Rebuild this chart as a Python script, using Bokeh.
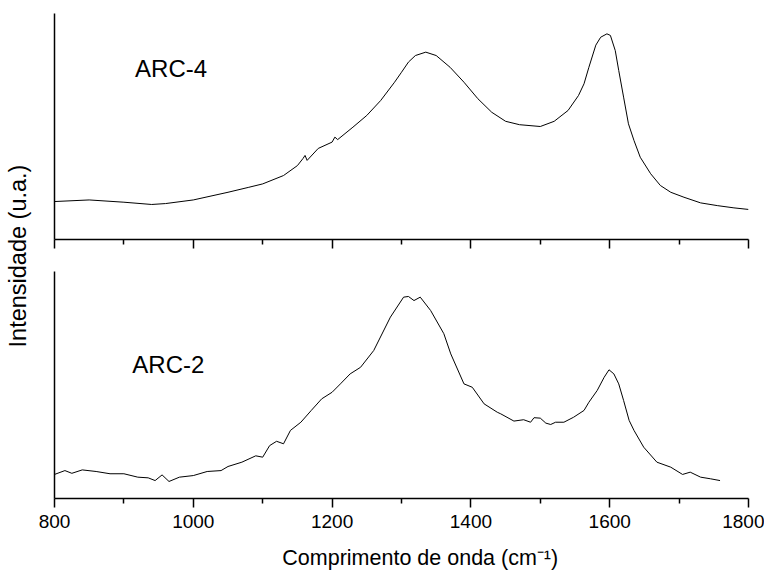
import math
from bokeh.plotting import figure
from bokeh.layouts import row, column
from bokeh.models import Range1d, FixedTicker, CustomJSTickFormatter, Label
from bokeh.core.properties import value
from bokeh.embed import file_html
from bokeh.resources import INLINE

# ---------------- data ----------------
# ARC-4 Raman spectrum (wavenumber, intensity a.u.)
arc4_x = [800, 850, 900, 940, 960, 1000, 1050, 1080, 1100, 1130, 1150, 1158, 1161, 1164,
          1180, 1200, 1204, 1208, 1230, 1250, 1270, 1290, 1300, 1310, 1320, 1335, 1350,
          1370, 1390, 1410, 1430, 1450, 1470, 1500, 1520, 1540, 1555, 1563, 1570, 1580,
          1587, 1596, 1601, 1608, 1613, 1620, 1627, 1635, 1644, 1659, 1673, 1688, 1707,
          1731, 1755, 1779, 1800]
arc4_y = [16.8, 17.5, 16.5, 15.5, 15.9, 17.5, 20.9, 23.1, 24.6, 28.3, 32.7, 35.8, 37.2, 35.0,
          40.3, 43.1, 45.3, 44.2, 49.7, 54.9, 61.5, 69.6, 74.0, 78.5, 81.4, 82.9, 81.4,
          76.2, 69.6, 62.3, 56.3, 52.3, 50.8, 50.0, 52.3, 57.1, 63.7, 68.9, 76.2, 86.0,
          89.5, 91.0, 90.3, 83.6, 74.8, 63.0, 51.2, 43.8, 36.4, 29.1, 23.9, 20.9, 18.7,
          16.2, 15.0, 14.0, 13.3]

# ARC-2 Raman spectrum
arc2_x = [800, 815, 825, 840, 860, 880, 900, 920, 935, 945, 955, 965, 980, 1000, 1020, 1040,
          1050, 1070, 1090, 1100, 1110, 1120, 1130, 1140, 1155, 1170, 1185, 1200, 1212, 1226,
          1241, 1260, 1284, 1303, 1310, 1318, 1327, 1342, 1361, 1371, 1390, 1402, 1419, 1438,
          1443, 1462, 1476, 1486, 1491, 1500, 1508, 1515, 1522, 1534, 1548, 1563, 1570, 1582,
          1592, 1599, 1606, 1613, 1620, 1628, 1635, 1649, 1668, 1688, 1705, 1716, 1731, 1745,
          1759]
arc2_y = [10.6, 12.3, 11.1, 12.6, 11.9, 10.9, 10.9, 9.4, 9.1, 7.9, 10.4, 7.5, 9.4, 10.1, 11.9, 12.3,
          14.1, 16.0, 18.8, 18.2, 23.3, 25.2, 24.1, 30.0, 33.6, 38.8, 43.9, 46.8, 50.5, 54.9,
          57.8, 65.2, 79.9, 88.7, 89.0, 87.2, 88.7, 82.8, 72.6, 63.7, 50.5, 49.0, 41.7, 38.0,
          37.3, 34.1, 34.7, 33.6, 35.6, 35.4, 33.2, 32.6, 33.6, 33.6, 35.8, 38.8, 42.4, 47.6,
          53.4, 56.7, 54.9, 50.5, 43.2, 34.4, 30.0, 22.6, 16.0, 13.8, 10.6, 11.6, 9.4, 8.7,
          7.9]

major_ticks = [800, 1000, 1200, 1400, 1600, 1800]
minor_ticks = [900, 1100, 1300, 1500, 1700]

FONT = "Liberation Sans"
AXIS_W = 1.5


def make_panel(height, border_top, border_bottom, xs, ys, name, lx, ly, show_labels):
    p = figure(width=732, height=height, output_backend="svg", toolbar_location=None,
               x_range=Range1d(800, 1800), y_range=Range1d(0, 100),
               min_border_left=22, min_border_right=16,
               min_border_top=border_top, min_border_bottom=border_bottom)
    p.outline_line_color = None
    p.xgrid.visible = False
    p.ygrid.visible = False
    p.background_fill_color = "white"
    p.border_fill_color = "white"

    yax = p.yaxis[0]
    yax.ticker = FixedTicker(ticks=[])
    yax.axis_line_width = AXIS_W
    yax.axis_line_color = "black"
    yax.major_tick_line_color = None
    yax.minor_tick_line_color = None

    xax = p.xaxis[0]
    xax.ticker = FixedTicker(ticks=major_ticks, minor_ticks=minor_ticks)
    xax.axis_line_width = AXIS_W
    xax.axis_line_color = "black"
    xax.major_tick_line_width = AXIS_W
    xax.minor_tick_line_width = AXIS_W
    xax.major_tick_in = 0
    xax.major_tick_out = 9
    xax.minor_tick_in = 0
    xax.minor_tick_out = 5
    xax.major_label_text_font = FONT
    xax.major_label_text_font_size = "19px"
    xax.major_label_text_color = "black"
    xax.major_label_standoff = 7
    if not show_labels:
        xax.formatter = CustomJSTickFormatter(code="return ''")

    p.line(xs, ys, line_color="black", line_width=1)

    p.add_layout(Label(x=lx, y=ly, text=name, text_font=FONT, text_font_size="24px",
                       text_color="black", text_align="center", text_baseline="middle"))
    return p


p_top = make_panel(255, 13, 16, arc4_x, arc4_y, "ARC-4", 968, 75.7, False)
p_bot = make_panel(287, 16, 44, arc2_x, arc2_y, "ARC-2", 964, 59, True)

# strip below the lower panel carrying the x-axis title (slightly right of centre, as in the original)
p_xt = figure(width=732, height=32, output_backend="svg", toolbar_location=None,
              x_range=Range1d(800, 1800), y_range=Range1d(0, 1),
              min_border_left=22, min_border_right=16, min_border_top=0, min_border_bottom=0)
p_xt.axis.visible = False
p_xt.grid.visible = False
p_xt.outline_line_color = None
p_xt.add_layout(Label(x=1327, y=0.53, text="Comprimento de onda (cm\u207b\u00b9)",
                      text_font=FONT, text_font_size="21.5px", text_color="black",
                      text_align="center", text_baseline="middle"))

# narrow panel carrying the shared y-axis title
p_lab = figure(width=32, height=574, output_backend="svg", toolbar_location=None,
               x_range=Range1d(0, 1), y_range=Range1d(0, 1),
               min_border=0, min_border_left=0, min_border_right=0,
               min_border_top=0, min_border_bottom=0)
p_lab.axis.visible = False
p_lab.grid.visible = False
p_lab.outline_line_color = None
# centre of the label at the middle of the two stacked plot frames
p_lab.add_layout(Label(x=0.56, y=(574 - 255.5) / 574, text="Intensidade (u.a.)",
                       angle=math.pi / 2, text_font=FONT, text_font_size="23.5px",
                       text_color="black", text_align="center", text_baseline="middle"))

layout = row(p_lab, column(p_top, p_bot, p_xt))

open("out.html", "w").write(file_html(layout, INLINE))
